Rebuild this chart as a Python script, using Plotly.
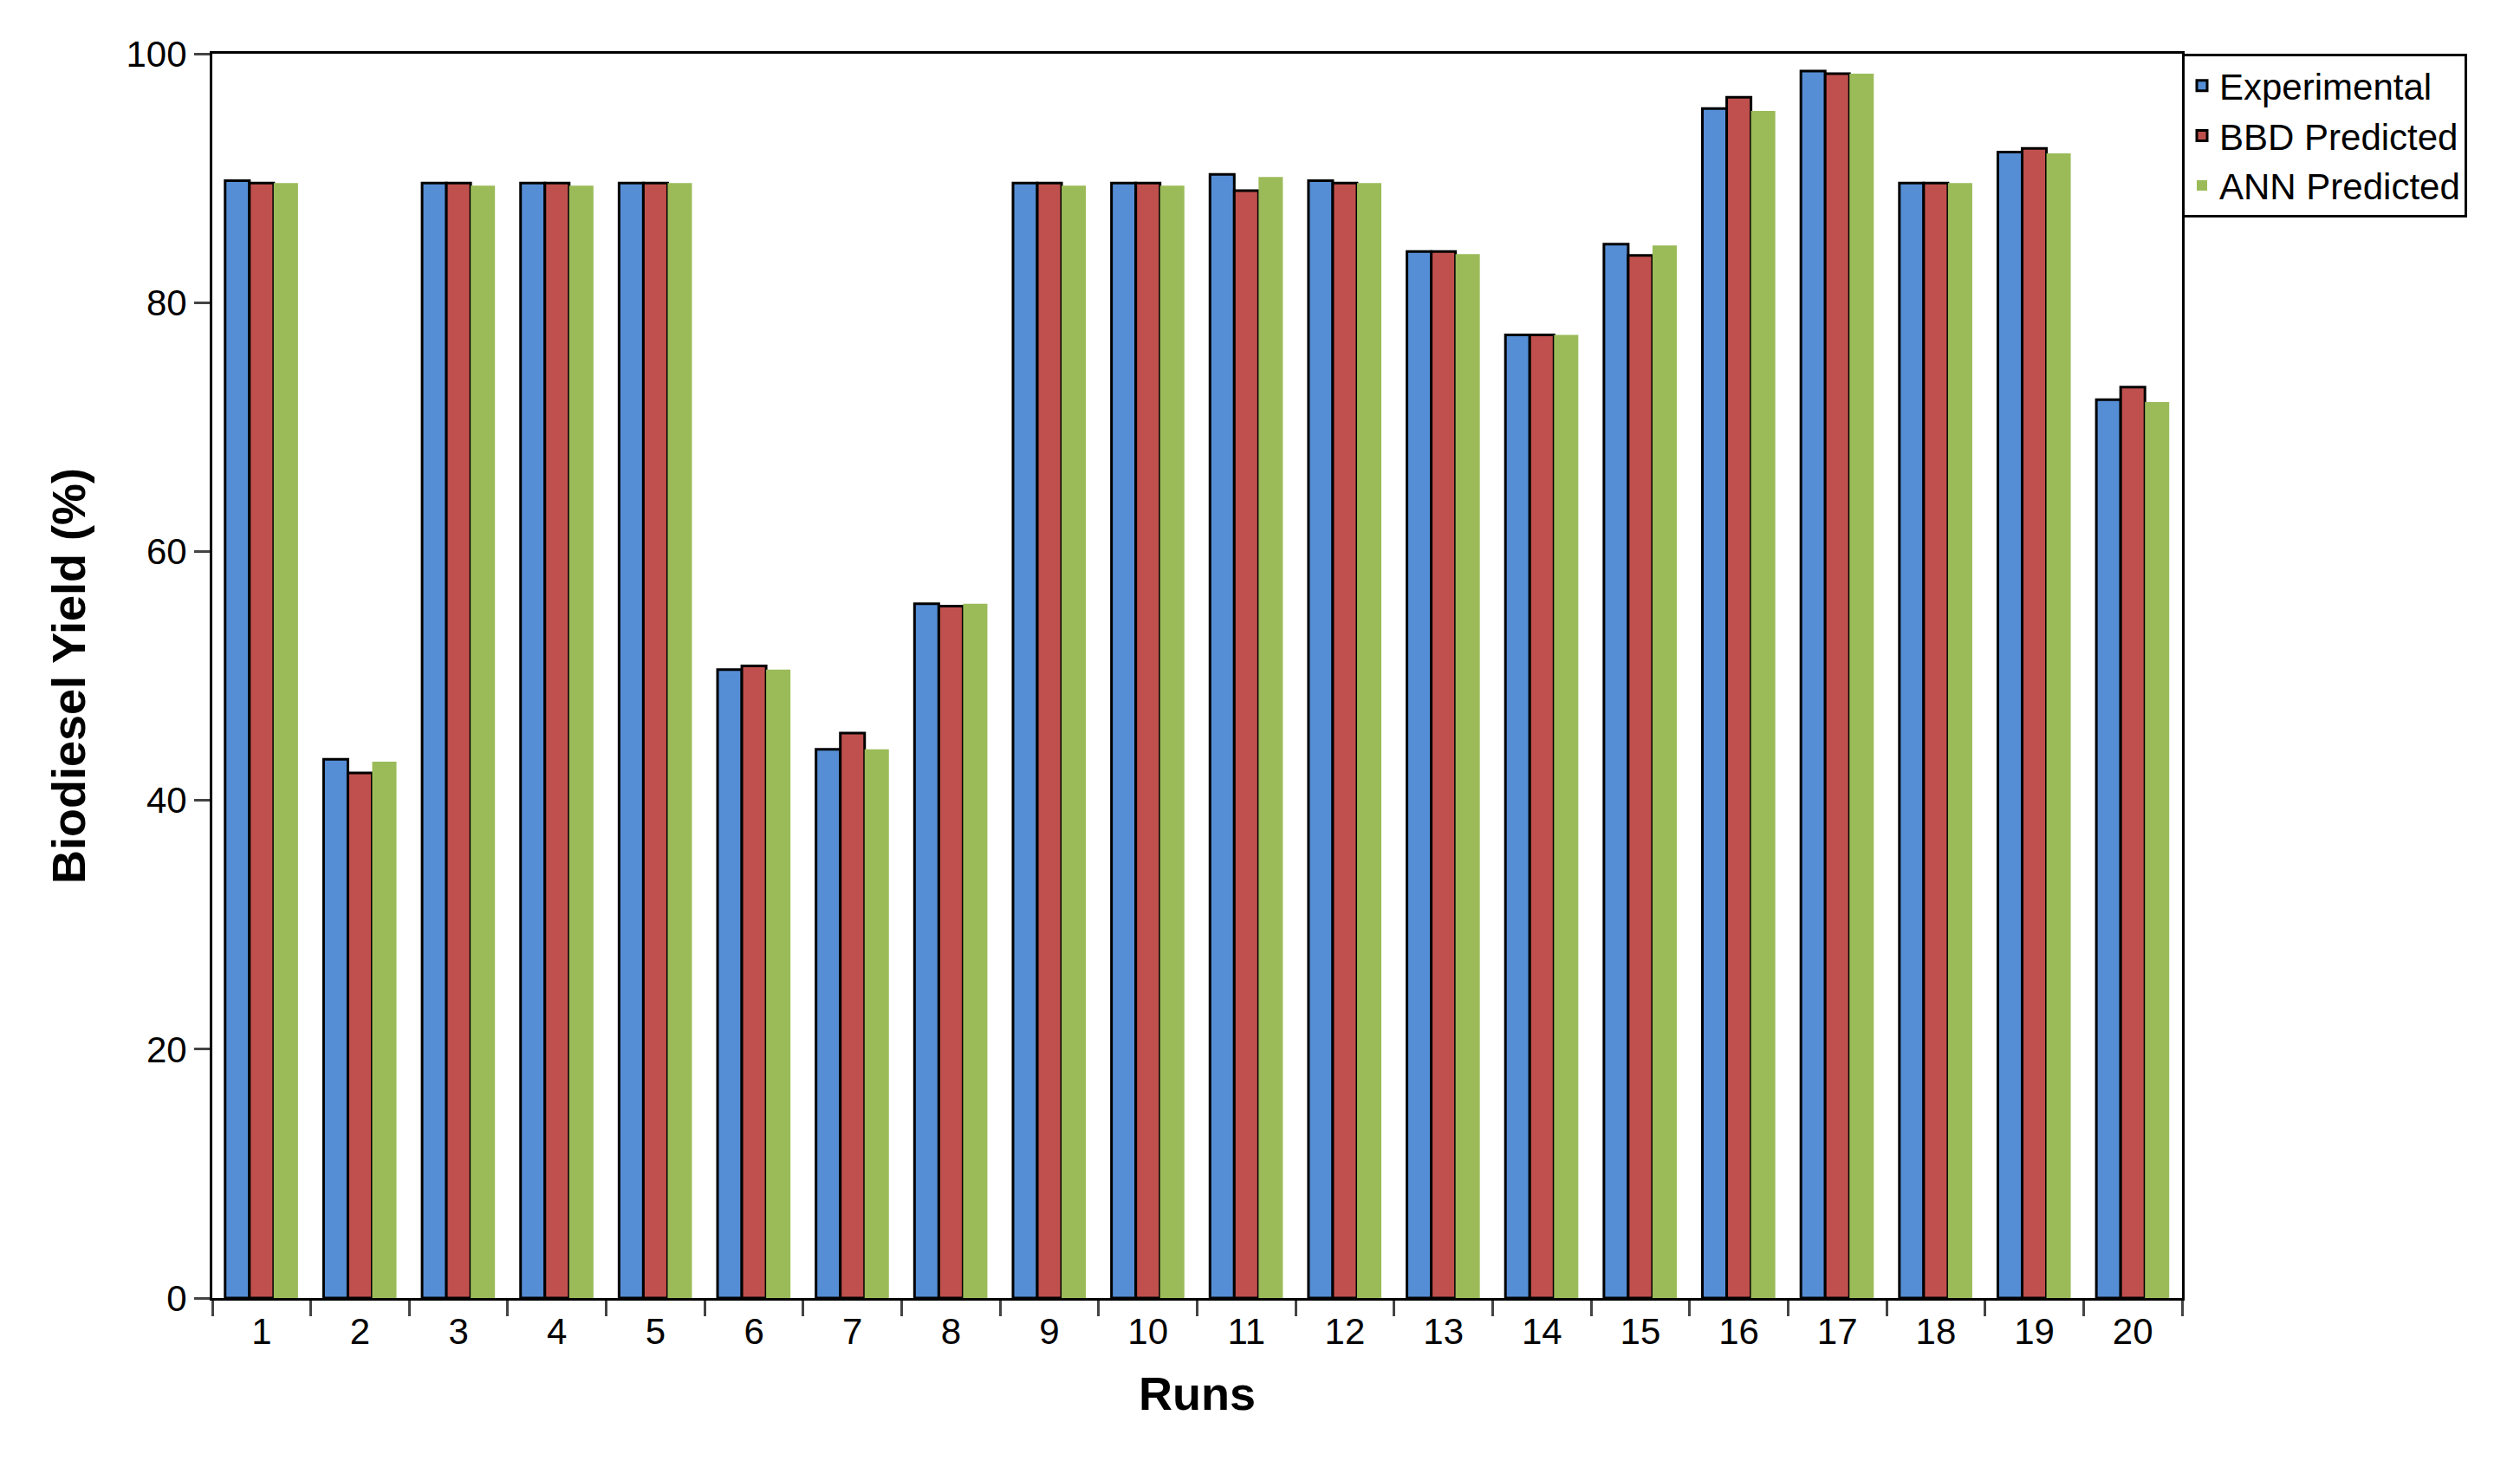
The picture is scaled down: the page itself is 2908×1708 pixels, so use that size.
import plotly.graph_objects as go

runs = [str(i) for i in range(1, 21)]
experimental = [89.8, 43.3, 89.6, 89.6, 89.6, 50.5, 44.1, 55.8, 89.6, 89.6,
                90.3, 89.8, 84.1, 77.4, 84.7, 95.6, 98.6, 89.6, 92.1, 72.2]
bbd_predicted = [89.6, 42.2, 89.6, 89.6, 89.6, 50.8, 45.4, 55.6, 89.6, 89.6,
                 89.0, 89.6, 84.1, 77.4, 83.8, 96.5, 98.4, 89.6, 92.4, 73.2]
ann_predicted = [89.6, 43.1, 89.4, 89.4, 89.6, 50.5, 44.1, 55.8, 89.4, 89.4,
                 90.1, 89.6, 83.9, 77.4, 84.6, 95.4, 98.4, 89.6, 92.0, 72.0]

fig = go.Figure()
fig.add_trace(go.Bar(x=runs, y=experimental, name="Experimental",
                     marker=dict(color="#558ED5", line=dict(color="black", width=3))))
fig.add_trace(go.Bar(x=runs, y=bbd_predicted, name="BBD Predicted",
                     marker=dict(color="#C0504D", line=dict(color="black", width=3))))
fig.add_trace(go.Bar(x=runs, y=ann_predicted, name="ANN Predicted",
                     marker=dict(color="#9BBB59", line=dict(width=0))))

fig.update_layout(
    width=2908, height=1708,
    paper_bgcolor="white", plot_bgcolor="white",
    font=dict(family="Liberation Sans, Arial", size=42, color="black"),
    margin=dict(l=237, r=398, t=54, b=218),
    barmode="group", bargap=0.26, bargroupgap=0,
    legend=dict(x=1.0, y=1.0, xanchor="left", yanchor="top",
                bordercolor="black", borderwidth=3, bgcolor="white",
                font=dict(size=42), tracegroupgap=0, itemwidth=30),
)
fig.update_xaxes(
    title=dict(text="<b>Runs</b>", font=dict(size=54), standoff=30),
    tickson="boundaries", ticks="outside", ticklen=18, tickwidth=3,
    showline=True, linecolor="black", linewidth=3, mirror=True,
)
fig.update_yaxes(
    title=dict(text="<b>Biodiesel Yield (%)</b>", font=dict(size=54), standoff=30),
    range=[0, 100], dtick=20, ticks="outside", ticklen=18, tickwidth=3,
    showgrid=False, zeroline=False,
    showline=True, linecolor="black", linewidth=3, mirror=True,
)

fig.write_html("out.html")
